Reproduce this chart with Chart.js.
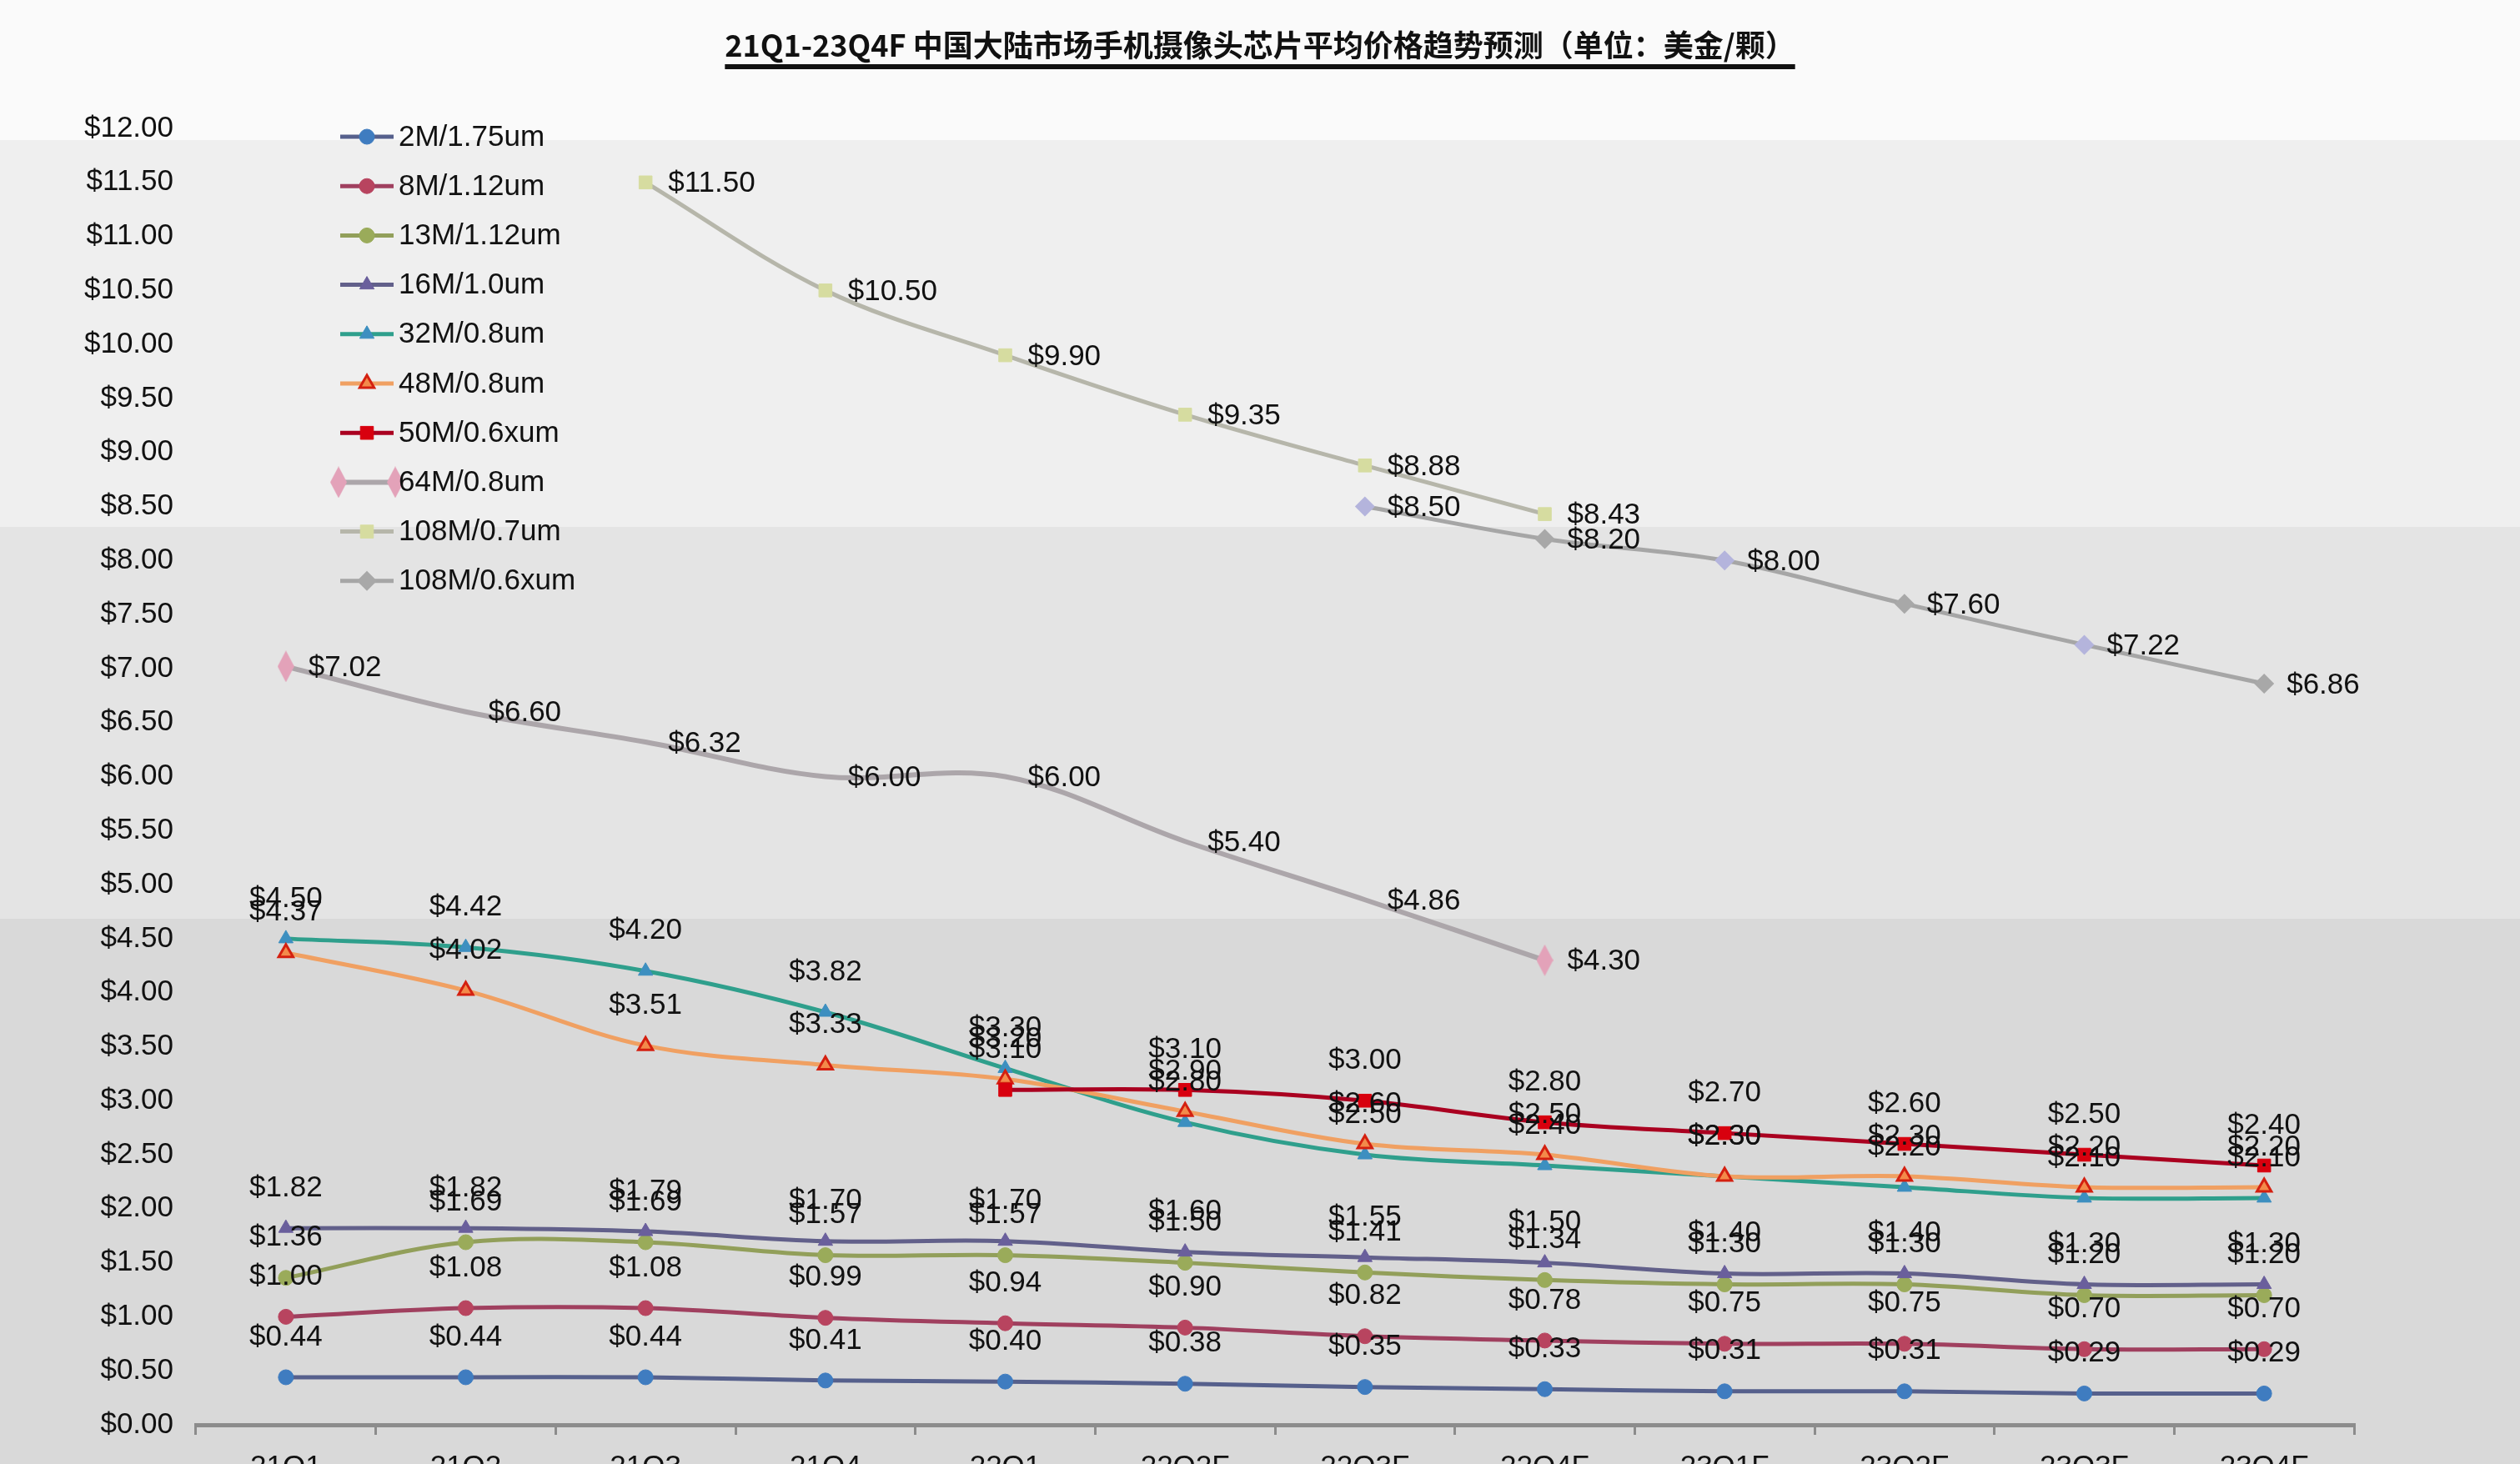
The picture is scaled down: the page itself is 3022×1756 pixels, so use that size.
<!DOCTYPE html>
<html>
<head>
<meta charset="utf-8">
<title>摄像头芯片平均价格趋势</title>
<script src="https://cdn.jsdelivr.net/npm/chart.js@4.4.1/dist/chart.umd.min.js"></script>
<style>
	html, body { margin: 0; padding: 0; background: #fafafa; overflow: hidden; }
	#wrap { position: relative; width: 3022px; height: 1756px; overflow: hidden; }
	#title {
		position: absolute; left: 0; top: 26px; width: 3022px; z-index: 2;
		text-align: center; line-height: 54px; color: #111;
		font: bold 36px "Noto Sans CJK SC", "Liberation Sans", sans-serif;
	}
	#title span { text-decoration: underline; text-decoration-thickness: 6px; text-underline-offset: 9px; }
	canvas { position: absolute; left: 0; top: 0; }
</style>
</head>
<body>
<div id="wrap">
	<div id="title"><span>21Q1-23Q4F 中国大陆市场手机摄像头芯片平均价格趋势预测（单位：美金/颗）</span></div>
	<canvas id="price-chart" width="3022" height="1790" style="width:3022px;height:1790px"></canvas>
</div>
<script>
const CATEGORIES = ['21Q1', '21Q2', '21Q3', '21Q4', '22Q1', '22Q2F', '22Q3F', '22Q4F', '23Q1F', '23Q2F', '23Q3F', '23Q4F'];
const SERIES_NAMES = ['2M/1.75um', '8M/1.12um', '13M/1.12um', '16M/1.0um', '32M/0.8um', '48M/0.8um', '50M/0.6xum', '64M/0.8um', '108M/0.7um', '108M/0.6xum'];

const PRICE_2M = [0.44, 0.44, 0.44, 0.41, 0.40, 0.38, 0.35, 0.33, 0.31, 0.31, 0.29, 0.29];
const PRICE_8M = [1.00, 1.08, 1.08, 0.99, 0.94, 0.90, 0.82, 0.78, 0.75, 0.75, 0.70, 0.70];
const PRICE_13M = [1.36, 1.69, 1.69, 1.57, 1.57, 1.50, 1.41, 1.34, 1.30, 1.30, 1.20, 1.20];
const PRICE_16M = [1.82, 1.82, 1.79, 1.70, 1.70, 1.60, 1.55, 1.50, 1.40, 1.40, 1.30, 1.30];
const PRICE_32M = [4.50, 4.42, 4.20, 3.82, 3.30, 2.80, 2.50, 2.40, 2.30, 2.20, 2.10, 2.10];
const PRICE_48M = [4.37, 4.02, 3.51, 3.33, 3.20, 2.90, 2.60, 2.50, 2.30, 2.30, 2.20, 2.20];
const PRICE_50M = [null, null, null, null, 3.10, 3.10, 3.00, 2.80, 2.70, 2.60, 2.50, 2.40];
const PRICE_64M = [7.02, 6.60, 6.32, 6.00, 6.00, 5.40, 4.86, 4.30, null, null, null, null];
const PRICE_108M_07 = [null, null, 11.50, 10.50, 9.90, 9.35, 8.88, 8.43, null, null, null, null];
const PRICE_108M_06 = [null, null, null, null, null, null, 8.50, 8.20, 8.00, 7.60, 7.22, 6.86];

const Y_MIN = 0;
const Y_MAX = 12;
const Y_STEP = 0.5;

const FONT = { family: '"Liberation Sans", Arial, sans-serif', size: 35 };

// tall narrow diamond, used by the 64M series
function makeDiamond(w, h, fill) {
	const c = document.createElement('canvas');
	c.width = w;
	c.height = h;
	const g = c.getContext('2d');
	g.fillStyle = fill;
	g.beginPath();
	g.moveTo(w / 2, 0);
	g.lineTo(w, h / 2);
	g.lineTo(w / 2, h);
	g.lineTo(0, h / 2);
	g.closePath();
	g.fill();
	return c;
}
const pinkDiamond = makeDiamond(20, 38, '#e3a2b9');

function series(i, data, line, marker, extra) {
	return Object.assign({
		label: SERIES_NAMES[i],
		data: data,
		borderColor: line,
		backgroundColor: marker,
		pointBackgroundColor: marker,
		pointBorderColor: marker,
		pointBorderWidth: 1,
		borderWidth: 5,
		tension: 0.35,
		pointRadius: 9,
		pointStyle: 'circle',
		labelSide: 'top',
		order: 10 - i,
	}, extra);
}

const datasets = [
	series(0, PRICE_2M, '#56608c', '#3f7cc0', {}),
	series(1, PRICE_8M, '#a0405f', '#b8445f', {}),
	series(2, PRICE_13M, '#929f5a', '#9aab5a', {}),
	series(3, PRICE_16M, '#62608a', '#6a5f9c', { pointStyle: 'triangle', pointRadius: 10 }),
	series(4, PRICE_32M, '#2f9f8c', '#3d8fc0', { pointStyle: 'triangle', pointRadius: 10 }),
	series(5, PRICE_48M, '#f0a062', '#f38a4a', { pointStyle: 'triangle', pointRadius: 10, pointBorderColor: '#d42010', pointBorderWidth: 3 }),
	series(6, PRICE_50M, '#aa0020', '#d8000e', { pointStyle: 'rect', pointRadius: 11 }),
	series(7, PRICE_64M, '#aca6aa', '#e3a2b9', { pointStyle: pinkDiamond, pointRadius: [12, 0, 0, 0, 0, 0, 0, 12], borderWidth: 6, labelSide: 'right' }),
	series(8, PRICE_108M_07, '#b6b6aa', '#d6dca0', { pointStyle: 'rect', pointRadius: 11, labelSide: 'right' }),
	series(9, PRICE_108M_06, '#a6a6a6', ['#a8a8a8', '#a8a8a8', '#a8a8a8', '#a8a8a8', '#a8a8a8', '#a8a8a8', '#b4b4dc', '#a8a8a8', '#b4b4dc', '#a8a8a8', '#b4b4dc', '#a8a8a8'],
		{ pointStyle: 'rectRot', pointRadius: 12, labelSide: 'right', pointBorderColor: 'rgba(0,0,0,0)' }),
];

// grey bands behind the whole picture
const bands = {
	id: 'bands',
	beforeDraw(chart) {
		const ctx = chart.ctx;
		const w = chart.width;
		ctx.save();
		ctx.fillStyle = '#fafafa';
		ctx.fillRect(0, 0, w, 168);
		ctx.fillStyle = '#efefef';
		ctx.fillRect(0, 168, w, 464);
		ctx.fillStyle = '#e4e4e4';
		ctx.fillRect(0, 632, w, 470);
		ctx.fillStyle = '#d9d9d9';
		ctx.fillRect(0, 1102, w, chart.height - 1102);
		ctx.restore();
	},
};

// value labels: above the point, or to the right for the upper series
const valueLabels = {
	id: 'valueLabels',
	afterDatasetsDraw(chart) {
		const ctx = chart.ctx;
		ctx.save();
		ctx.font = FONT.size + 'px ' + FONT.family;
		ctx.fillStyle = '#111';
		ctx.textBaseline = 'middle';
		chart.data.datasets.forEach((ds, i) => {
			const meta = chart.getDatasetMeta(i);
			meta.data.forEach((pt, j) => {
				const v = ds.data[j];
				if (v === null || v === undefined) return;
				const text = '$' + v.toFixed(2);
				if (ds.labelSide === 'right') {
					ctx.textAlign = 'left';
					ctx.fillText(text, pt.x + 27, pt.y + 2);
				} else {
					ctx.textAlign = 'center';
					ctx.fillText(text, pt.x, pt.y - 48);
				}
			});
		});
		ctx.restore();
	},
};

// legend drawn as a column inside the plot, top left
const insideLegend = {
	id: 'insideLegend',
	afterDraw(chart) {
		const ctx = chart.ctx;
		const area = chart.chartArea;
		const x1 = area.left + 173;
		const x2 = area.left + 237;
		const mx = (x1 + x2) / 2;
		ctx.save();
		ctx.font = FONT.size + 'px ' + FONT.family;
		ctx.textBaseline = 'middle';
		ctx.textAlign = 'left';
		chart.data.datasets.forEach((ds, i) => {
			const y = area.top + 10 + i * 59.2;
			ctx.strokeStyle = ds.borderColor;
			ctx.lineWidth = ds.borderWidth;
			ctx.beginPath();
			ctx.moveTo(x1, y);
			ctx.lineTo(x2, y);
			ctx.stroke();
			const fill = Array.isArray(ds.pointBackgroundColor) ? ds.pointBackgroundColor[0] : ds.pointBackgroundColor;
			ctx.fillStyle = fill;
			ctx.strokeStyle = ds.pointBorderColor;
			ctx.lineWidth = ds.pointBorderWidth;
			const style = ds.pointStyle;
			const r = Array.isArray(ds.pointRadius) ? Math.max(...ds.pointRadius) : ds.pointRadius;
			if (style === pinkDiamond) {
				Chart.helpers.drawPoint(ctx, { pointStyle: style, radius: r, rotation: 0, borderWidth: 0 }, x1 - 2, y);
				Chart.helpers.drawPoint(ctx, { pointStyle: style, radius: r, rotation: 0, borderWidth: 0 }, x2 + 2, y);
			} else {
				Chart.helpers.drawPoint(ctx, { pointStyle: style, radius: r, rotation: 0, borderWidth: ds.pointBorderWidth }, mx, y);
			}
			ctx.fillStyle = '#111';
			ctx.fillText(ds.label, x2 + 6, y + 1);
		});
		ctx.restore();
	},
};

Chart.defaults.font.family = FONT.family;
Chart.defaults.font.size = FONT.size;
Chart.defaults.color = '#111';

const price_chart = document.getElementById('price-chart').getContext('2d');

new Chart(price_chart, {
	type: 'line',
	data: {
		labels: CATEGORIES,
		datasets: datasets,
	},
	options: {
		responsive: false,
		animation: false,
		devicePixelRatio: 1,
		layout: {
			padding: { top: 154, right: 199, bottom: 0, left: 0 },
		},
		plugins: {
			legend: { display: false },
			title: { display: false },
			tooltip: { enabled: false },
		},
		scales: {
			x: {
				type: 'category',
				offset: true,
				grid: {
					offset: true,
					drawOnChartArea: false,
					drawTicks: true,
					tickLength: 12,
					color: '#8c8c8c',
					lineWidth: 3,
				},
				border: { display: true, color: '#8c8c8c', width: 5 },
				ticks: { padding: 18, autoSkip: false, maxRotation: 0, color: '#111', font: FONT },
				afterFit(scale) { scale.height = 81; },
			},
			y: {
				min: Y_MIN,
				max: Y_MAX,
				grid: { display: false, drawTicks: false },
				border: { display: false },
				ticks: {
					stepSize: Y_STEP,
					padding: 27,
					color: '#111',
					font: FONT,
					callback: (v) => '$' + Number(v).toFixed(2),
				},
				afterFit(scale) { scale.width = 235; },
			},
		},
	},
	plugins: [bands, valueLabels, insideLegend],
});
</script>
</body>
</html>
